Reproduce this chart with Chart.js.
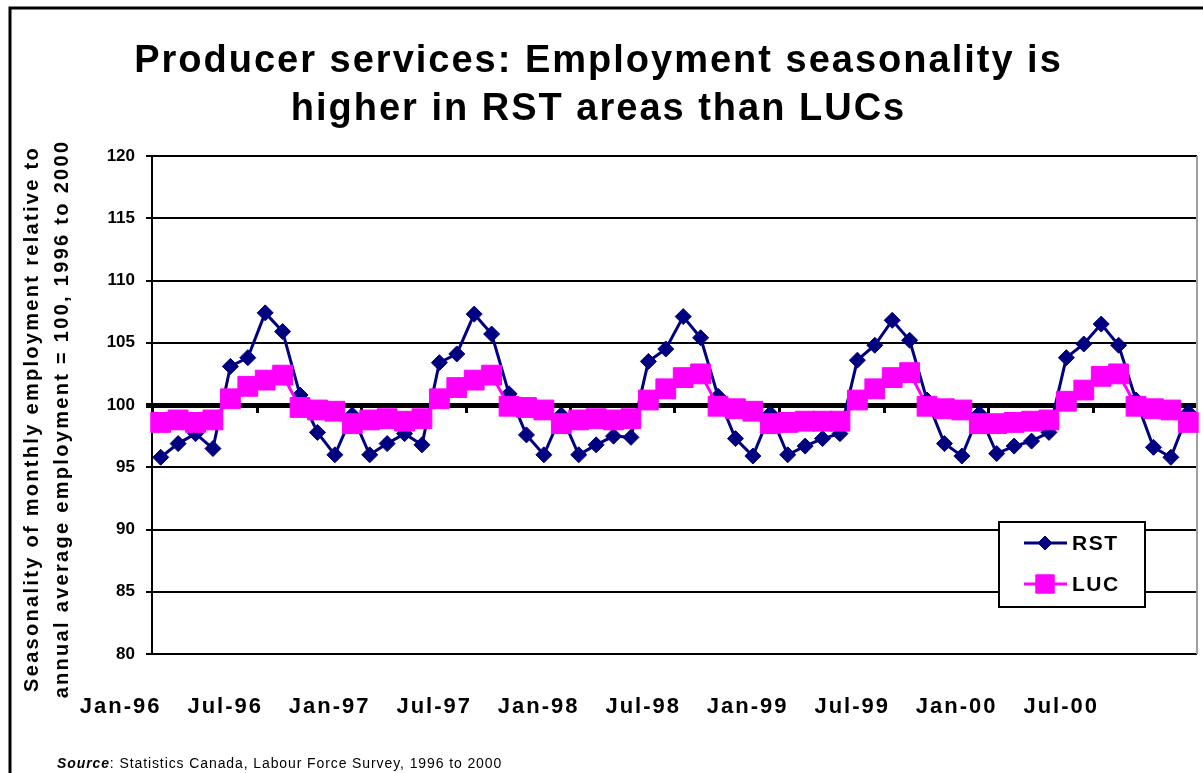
<!DOCTYPE html>
<html>
<head>
<meta charset="utf-8">
<title>Producer services seasonality</title>
<script src="https://cdn.jsdelivr.net/npm/chart.js@4.4.0/dist/chart.umd.min.js"></script>
<style>
  html, body { margin: 0; padding: 0; background: #fff; }
  #wrap { position: relative; width: 1203px; height: 773px; }
</style>
</head>
<body>
<div id="wrap"><canvas id="seasonChart" width="1203" height="773"></canvas></div>
<script>
const FONT = "'Liberation Sans', Arial, Helvetica, sans-serif";

const months = [
  'Jan-96','Feb-96','Mar-96','Apr-96','May-96','Jun-96','Jul-96','Aug-96','Sep-96','Oct-96','Nov-96','Dec-96',
  'Jan-97','Feb-97','Mar-97','Apr-97','May-97','Jun-97','Jul-97','Aug-97','Sep-97','Oct-97','Nov-97','Dec-97',
  'Jan-98','Feb-98','Mar-98','Apr-98','May-98','Jun-98','Jul-98','Aug-98','Sep-98','Oct-98','Nov-98','Dec-98',
  'Jan-99','Feb-99','Mar-99','Apr-99','May-99','Jun-99','Jul-99','Aug-99','Sep-99','Oct-99','Nov-99','Dec-99',
  'Jan-00','Feb-00','Mar-00','Apr-00','May-00','Jun-00','Jul-00','Aug-00','Sep-00','Oct-00','Nov-00','Dec-00'
];

// labels shown on the x axis, one every six months
const xTickLabels = ['Jan-96','Jul-96','Jan-97','Jul-97','Jan-98','Jul-98','Jan-99','Jul-99','Jan-00','Jul-00'];

const rst = [
  95.8, 96.9, 97.7, 96.5, 103.1, 103.8, 107.4, 105.9, 100.8, 97.8, 96.0, 99.2,
  96.0, 96.9, 97.7, 96.8, 103.4, 104.1, 107.3, 105.7, 100.9, 97.6, 96.0, 99.2,
  96.0, 96.8, 97.5, 97.4, 103.5, 104.5, 107.1, 105.4, 100.7, 97.3, 95.9, 99.3,
  96.0, 96.7, 97.3, 97.7, 103.6, 104.8, 106.8, 105.2, 100.4, 96.9, 95.9, 99.3,
  96.1, 96.7, 97.1, 97.8, 103.8, 104.9, 106.5, 104.8, 100.4, 96.6, 95.8, 99.4
];

const luc = [
  98.6, 98.8, 98.6, 98.8, 100.5, 101.5, 102.0, 102.4, 99.8, 99.6, 99.5, 98.5,
  98.8, 98.9, 98.7, 98.9, 100.5, 101.4, 102.0, 102.4, 99.9, 99.8, 99.6, 98.5,
  98.8, 98.9, 98.8, 98.9, 100.4, 101.3, 102.2, 102.5, 99.9, 99.7, 99.5, 98.5,
  98.6, 98.7, 98.7, 98.7, 100.4, 101.3, 102.2, 102.6, 99.9, 99.7, 99.6, 98.5,
  98.5, 98.6, 98.7, 98.8, 100.3, 101.2, 102.3, 102.5, 99.9, 99.7, 99.6, 98.6
];

const NAVY = '#000080';
const PINK = '#ff00ff';

// run one of a box's draw methods with a given letter spacing (and optional shift)
function spaced(obj, method, ls, dy = 0) {
  const orig = obj[method];
  obj[method] = function (...args) {
    const c = this.ctx;
    const prev = c.letterSpacing;
    c.save();
    c.translate(0, dy);
    c.letterSpacing = ls;
    orig.apply(this, args);
    c.restore();
    c.letterSpacing = prev;
  };
}

const spacing = {
  id: 'spacing',
  afterLayout(chart) {
    if (chart.$spaced) return;
    chart.$spaced = true;
    spaced(chart.titleBlock, 'draw', '2px');
    spaced(chart.scales.x, 'drawLabels', '2px');
    spaced(chart.scales.y, 'drawTitle', '2.3px', 14);
  }
};

// frame, x tick marks on the 100 line, legend box and source note
const decor = {
  id: 'decor',
  beforeDraw(chart) {
    const c = chart.ctx;
    c.save();
    c.fillStyle = '#fff';
    c.fillRect(0, 0, chart.width, chart.height);
    c.strokeStyle = '#000';
    c.lineWidth = 3;
    c.beginPath();
    c.moveTo(10, chart.height);
    c.lineTo(10, 8);
    c.lineTo(chart.width, 8);
    c.stroke();
    c.restore();
  },
  beforeDatasetsDraw(chart) {
    const c = chart.ctx;
    const x = chart.scales.x, y = chart.scales.y;
    const area = chart.chartArea;
    const half = (x.getPixelForValue(1) - x.getPixelForValue(0)) / 2;
    const y100 = y.getPixelForValue(100);
    c.save();
    // right edge of the plot
    c.strokeStyle = '#a0a0a0';
    c.lineWidth = 2;
    c.beginPath();
    c.moveTo(area.right, area.top);
    c.lineTo(area.right, area.bottom);
    c.stroke();
    // half-year tick marks below the 100 line
    c.strokeStyle = '#000';
    c.lineWidth = 3;
    for (let i = 0; i < months.length; i += 6) {
      const px = Math.round(x.getPixelForValue(i) - half) + 0.5;
      c.beginPath();
      c.moveTo(px, y100);
      c.lineTo(px, y100 + 8);
      c.stroke();
    }
    c.restore();
  },
  afterDraw(chart) {
    const c = chart.ctx;
    const area = chart.chartArea;
    const bx = area.right - 198, by = area.top + 366, bw = 146, bh = 85;
    c.save();
    c.fillStyle = '#fff';
    c.fillRect(bx, by, bw, bh);
    c.strokeStyle = '#000';
    c.lineWidth = 2;
    c.strokeRect(bx, by, bw, bh);
    chart.data.datasets.forEach((ds, i) => {
      const ly = by + 21 + i * 41;
      c.strokeStyle = ds.borderColor;
      c.lineWidth = 3;
      c.beginPath();
      c.moveTo(bx + 25, ly);
      c.lineTo(bx + 68, ly);
      c.stroke();
      c.fillStyle = ds.backgroundColor;
      c.strokeStyle = ds.borderColor;
      c.lineWidth = 1;
      Chart.helpers.drawPoint(c, {
        pointStyle: ds.pointStyle,
        radius: ds.pointStyle === 'rect' ? 13 : 7,
        borderWidth: 1,
        rotation: 0
      }, bx + 46, ly);
      c.fillStyle = '#000';
      c.font = 'bold 21px ' + FONT;
      c.letterSpacing = '1.5px';
      c.textBaseline = 'middle';
      c.fillText(ds.label, bx + 73, ly + 1);
    });
    // source note
    c.textBaseline = 'alphabetic';
    c.letterSpacing = '0.9px';
    c.font = 'bold italic 14px ' + FONT;
    c.fillText('Source', 57, 768);
    const w = c.measureText('Source').width;
    c.font = '14px ' + FONT;
    c.fillText(': Statistics Canada, Labour Force Survey, 1996 to 2000', 57 + w, 768);
    c.restore();
  }
};

new Chart(document.getElementById('seasonChart'), {
  type: 'line',
  data: {
    labels: months,
    datasets: [
      {
        label: 'RST',
        data: rst,
        borderColor: NAVY,
        backgroundColor: NAVY,
        borderWidth: 3,
        pointStyle: 'rectRot',
        pointRadius: 8,
        pointBorderWidth: 1,
        tension: 0,
        order: 2
      },
      {
        label: 'LUC',
        data: luc,
        borderColor: PINK,
        backgroundColor: PINK,
        borderWidth: 3,
        pointStyle: 'rect',
        pointRadius: 14,
        pointBorderWidth: 1,
        tension: 0,
        order: 1
      }
    ]
  },
  options: {
    responsive: false,
    animation: false,
    events: [],
    layout: { autoPadding: false, padding: { left: 0, right: 6, top: 0, bottom: 0 } },
    plugins: {
      legend: { display: false },
      tooltip: { enabled: false },
      title: {
        display: true,
        text: ['Producer services: Employment seasonality is', 'higher in RST areas than LUCs'],
        color: '#000',
        font: { family: FONT, size: 38, weight: 'bold', lineHeight: 1.25 },
        padding: { top: 38, bottom: 23 }
      }
    },
    scales: {
      x: {
        offset: true,
        grid: { display: false, drawTicks: false },
        border: { display: false },
        afterFit(scale) {
          scale.height = 119;
        },
        ticks: {
          autoSkip: false,
          maxRotation: 0,
          minRotation: 0,
          labelOffset: -40,
          padding: 0,
          color: '#000',
          font: { family: FONT, size: 22, weight: 'bold', lineHeight: 1.6 },
          // an empty first line drops each label well below the plot
          callback: (v, i) => (i % 6 === 0 ? ['', xTickLabels[i / 6]] : '')
        }
      },
      y: {
        min: 80,
        max: 120,
        afterFit(scale) { scale.width = 152; },
        ticks: {
          stepSize: 5,
          padding: 11,
          color: '#000',
          font: { family: FONT, size: 17, weight: 'bold' }
        },
        grid: {
          color: '#000',
          lineWidth: (ctx) => (ctx.tick && ctx.tick.value === 100 ? 5 : 2),
          tickLength: 6
        },
        border: { color: '#000', width: 2 },
        title: {
          display: true,
          text: ['Seasonality of monthly employment relative to', 'annual average employment = 100, 1996 to 2000'],
          color: '#000',
          font: { family: FONT, size: 20, weight: 'bold', lineHeight: 1.5 },
          padding: { top: 17, bottom: 0 }
        }
      }
    }
  },
  plugins: [spacing, decor]
});
</script>
</body>
</html>
